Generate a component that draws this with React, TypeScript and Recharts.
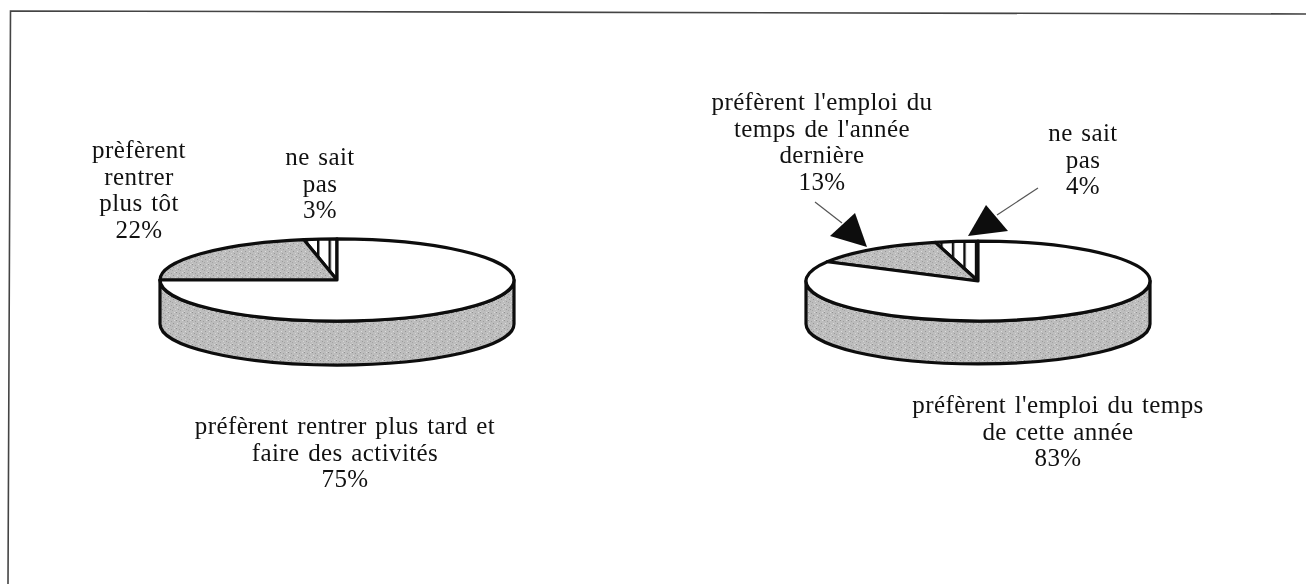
import { Pie, PieChart } from "recharts";

const WIDTH = 1306;
const HEIGHT = 584;

const leftCategories = ["ne sait pas", "prèfèrent rentrer plus tôt", "préfèrent rentrer plus tard et faire des activités"];
const leftValues = [3, 22, 75];
const rightCategories = ["ne sait pas", "préfèrent l'emploi du temps de l'année dernière", "préfèrent l'emploi du temps de cette année"];
const rightValues = [4, 13, 83];

const INK = "#0d0d0d";

const toRows = (names: string[], values: number[], prefix: string) => {
  const fills = [`url(#hatch-${prefix})`, "url(#speckle)", "#ffffff"];
  return names.map((name, i) => ({ name, value: values[i], fill: fills[i] }));
};

// Squashes a Recharts sector into an ellipse and adds the wall of the disc below it.
function discSector(squash: number, depth: number) {
  return function DiscSector(props: any) {
    const { cx, cy, outerRadius, startAngle, endAngle, fill } = props;
    const rx = outerRadius;
    const ry = outerRadius * squash;
    const at = (deg: number) => {
      const a = (deg * Math.PI) / 180;
      return [cx + rx * Math.cos(a), cy - ry * Math.sin(a)];
    };
    const from = Math.min(startAngle, endAngle);
    const to = Math.max(startAngle, endAngle);
    const [x0, y0] = at(from);
    const [x1, y1] = at(to);
    const large = to - from > 180 ? 1 : 0;
    const top = `M${cx},${cy}L${x0},${y0}A${rx},${ry} 0 ${large} 0 ${x1},${y1}Z`;

    const wallFrom = Math.max(from, 180);
    const wallTo = Math.min(to, 360);
    let wall = null;
    if (wallTo > wallFrom) {
      const [wx0, wy0] = at(wallFrom);
      const [wx1, wy1] = at(wallTo);
      wall = (
        <path
          d={`M${wx0},${wy0}A${rx},${ry} 0 0 0 ${wx1},${wy1}L${wx1},${wy1 + depth}A${rx},${ry} 0 0 1 ${wx0},${wy0 + depth}Z`}
          fill="url(#speckle)"
          stroke={INK}
          strokeWidth={3.2}
          strokeLinejoin="round"
        />
      );
    }
    return (
      <g>
        {wall}
        <path d={top} fill={fill} stroke={INK} strokeWidth={3.2} strokeLinejoin="round" />
      </g>
    );
  };
}

function Label({ x, y, lines }: { x: number; y: number; lines: string[] }) {
  return (
    <text
      x={x}
      y={y}
      textAnchor="middle"
      fontFamily="'Liberation Serif', serif"
      fontSize={25}
      fill="#111111"
      letterSpacing={0.4}
      wordSpacing={2}
    >
      {lines.map((line, i) => (
        <tspan key={line} x={x} dy={i === 0 ? 0 : 26.5}>
          {line}
        </tspan>
      ))}
    </text>
  );
}

export default function App() {
  return (
    <div style={{ position: "absolute", left: 0, top: 0, width: WIDTH, height: HEIGHT, background: "#ffffff", filter: "blur(0.35px)" }}>
      <PieChart width={WIDTH} height={HEIGHT} margin={{ top: 0, right: 0, bottom: 0, left: 0 }}>
        <defs>
          <pattern id="speckle" width="8" height="8" patternUnits="userSpaceOnUse">
            <rect width="8" height="8" fill="#bdbdbd" />
            <rect x="0" y="0" width="1" height="1" fill="#8f8f8f" />
            <rect x="3" y="1" width="1" height="1" fill="#a0a0a0" />
            <rect x="6" y="0" width="1" height="1" fill="#d8d8d8" />
            <rect x="1" y="3" width="1" height="1" fill="#dcdcdc" />
            <rect x="5" y="3" width="1" height="1" fill="#969696" />
            <rect x="2" y="5" width="1" height="1" fill="#9a9a9a" />
            <rect x="7" y="5" width="1" height="1" fill="#d4d4d4" />
            <rect x="4" y="6" width="1" height="1" fill="#a4a4a4" />
            <rect x="0" y="7" width="1" height="1" fill="#d0d0d0" />
          </pattern>
          <pattern id="hatch-left" x="6.5" width="11.5" height="8" patternUnits="userSpaceOnUse">
            <rect width="11.5" height="8" fill="#ffffff" />
            <rect x="0" width="2.4" height="8" fill={INK} />
          </pattern>
          <pattern id="hatch-right" x="8.8" width="11.5" height="8" patternUnits="userSpaceOnUse">
            <rect width="11.5" height="8" fill="#ffffff" />
            <rect x="0" width="2.4" height="8" fill={INK} />
          </pattern>
        </defs>

        <Pie
          data={toRows(leftCategories, leftValues, "left")}
          dataKey="value"
          nameKey="name"
          cx={337}
          cy={280}
          outerRadius={177}
          startAngle={90}
          endAngle={450}
          isAnimationActive={false}
          shape={discSector(0.232, 44)}
          label={false}
          labelLine={false}
        />
        <Pie
          data={toRows(rightCategories, rightValues, "right")}
          dataKey="value"
          nameKey="name"
          cx={978}
          cy={281}
          outerRadius={172}
          startAngle={90}
          endAngle={450}
          isAnimationActive={false}
          shape={discSector(0.232, 43)}
          label={false}
          labelLine={false}
        />

        <path d="M8,584 L10.5,11 L1306,14" fill="none" stroke="#444444" strokeWidth={1.6} />

        <Label x={139} y={158} lines={["prèfèrent", "rentrer", "plus tôt", "22%"]} />
        <Label x={320} y={165} lines={["ne sait", "pas", "3%"]} />
        <Label x={345} y={434} lines={["préfèrent rentrer plus tard et", "faire des activités", "75%"]} />
        <Label x={822} y={110} lines={["préfèrent l'emploi du", "temps de l'année", "dernière", "13%"]} />
        <Label x={1083} y={141} lines={["ne sait", "pas", "4%"]} />
        <Label x={1058} y={413} lines={["préfèrent l'emploi du temps", "de cette année", "83%"]} />

        <path d="M815,202 L842,223" stroke="#555555" strokeWidth={1.2} />
        <path d="M830,236 L855,213 L867,247 Z" fill={INK} />
        <path d="M1038,188 L997,215" stroke="#555555" strokeWidth={1.2} />
        <path d="M968,236 L986,205 L1008,231 Z" fill={INK} />
      </PieChart>
    </div>
  );
}
